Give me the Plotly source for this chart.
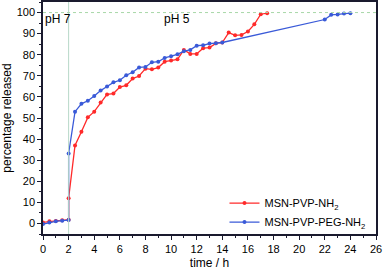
import plotly.graph_objects as go

x_red = [0, 0.5, 1, 1.5, 2, 2, 2.5, 3, 3.5, 4, 4.5, 5, 5.5, 6, 6.5, 7, 7.5, 8, 8.5, 9, 9.5, 10, 10.5,
         11, 11.5, 12, 12.5, 13, 13.5, 14, 14.5, 15, 15.5, 16, 16.5, 17, 17.5]
y_red = [0.5, 1.0, 1.2, 1.5, 1.8, 12, 37, 43.5, 50.3, 53, 57.4, 61.2, 61.6, 64.7, 65.5, 68.7, 69.9,
         73.4, 73.1, 73.9, 76.7, 77.3, 77.8, 82.3, 80.4, 80.4, 83.1, 83.4, 85.4, 85.8, 90.5, 89.2,
         89.4, 91, 94.4, 99.2, 99.7]

x_blue = [0, 0.5, 1, 1.5, 2, 2, 2.5, 3, 3.5, 4, 4.5, 5, 5.5, 6, 6.5, 7, 7.5, 8, 8.5, 9, 9.5, 10,
          10.5, 11, 11.5, 12, 12.5, 13, 13.5, 14, 22, 22.5, 23, 23.5, 24]
y_blue = [-0.3, 0.5, 1.0, 1.3, 1.6, 33.2, 53, 56.7, 58.2, 60.4, 63, 64.9, 66.9, 67.9, 70.3, 71.7,
          74, 74.2, 76.4, 76.7, 78.5, 79.3, 80.2, 81.7, 82.3, 84.3, 84.5, 85.3, 85.5, 85.8,
          96.7, 98.9, 99.1, 99.5, 99.7]

names = ["MSN-PVP-NH<sub>2</sub>", "MSN-PVP-PEG-NH<sub>2</sub>"]
ph_labels = ["pH 7", "pH 5"]

fig = go.Figure()
fig.add_trace(go.Scatter(x=x_red, y=y_red, mode="lines+markers", name=names[0],
                         line=dict(color="#ff2a2a", width=1.3),
                         marker=dict(color="#ff2a2a", size=4)))
fig.add_trace(go.Scatter(x=x_blue, y=y_blue, mode="lines+markers", name=names[1],
                         line=dict(color="#3a5ad8", width=1.3),
                         marker=dict(color="#3a5ad8", size=4)))

# reference lines
fig.add_shape(type="line", x0=2, x1=2, y0=-5, y1=105, xref="x", yref="y",
              line=dict(color="#b8d8c8", width=1))
fig.add_shape(type="line", x0=0, x1=26, y0=100, y1=100, xref="x", yref="y",
              line=dict(color="#a8d8a8", width=1, dash="dot"))

fig.add_annotation(x=0, y=97, text=ph_labels[0], showarrow=False, xanchor="left",
                   font=dict(size=12, color="black", family="Liberation Sans, Arial"))
fig.add_annotation(x=9.3, y=97, text=ph_labels[1], showarrow=False, xanchor="left",
                   font=dict(size=12, color="black", family="Liberation Sans, Arial"))

axis_common = dict(showgrid=False, zeroline=False, showline=True, linecolor="#1a1a2e",
                   linewidth=1.5, mirror=True, ticks="outside", ticklen=4, tickwidth=1,
                   tickcolor="#1a1a2e", tickfont=dict(size=11, color="black"), automargin=False)

fig.update_xaxes(range=[0, 26], dtick=2, tick0=0,
                 title=dict(text="time / h", font=dict(size=12, color="black"), standoff=5),
                 minor=dict(ticks="outside", dtick=1, ticklen=2, tickcolor="#1a1a2e"),
                 **axis_common)
fig.update_yaxes(range=[-5, 105], dtick=10, tick0=0,
                 title=dict(text="percentage released", font=dict(size=12, color="black"), standoff=4),
                 minor=dict(ticks="outside", dtick=5, ticklen=2, tickcolor="#1a1a2e"),
                 **axis_common)

fig.update_layout(
    width=384, height=271,
    margin=dict(l=43, r=8, t=2, b=37),
    paper_bgcolor="white", plot_bgcolor="white",
    font=dict(family="Liberation Sans, Arial, sans-serif", size=11, color="black"),
    legend=dict(x=0.545, y=0.196, xanchor="left", yanchor="top", bgcolor="rgba(0,0,0,0)",
                font=dict(size=11), itemwidth=30, tracegroupgap=0),
)

fig.write_html("out.html", config={"displayModeBar": False},
               post_script="document.body.style.margin='0';document.body.style.overflow='hidden';")
